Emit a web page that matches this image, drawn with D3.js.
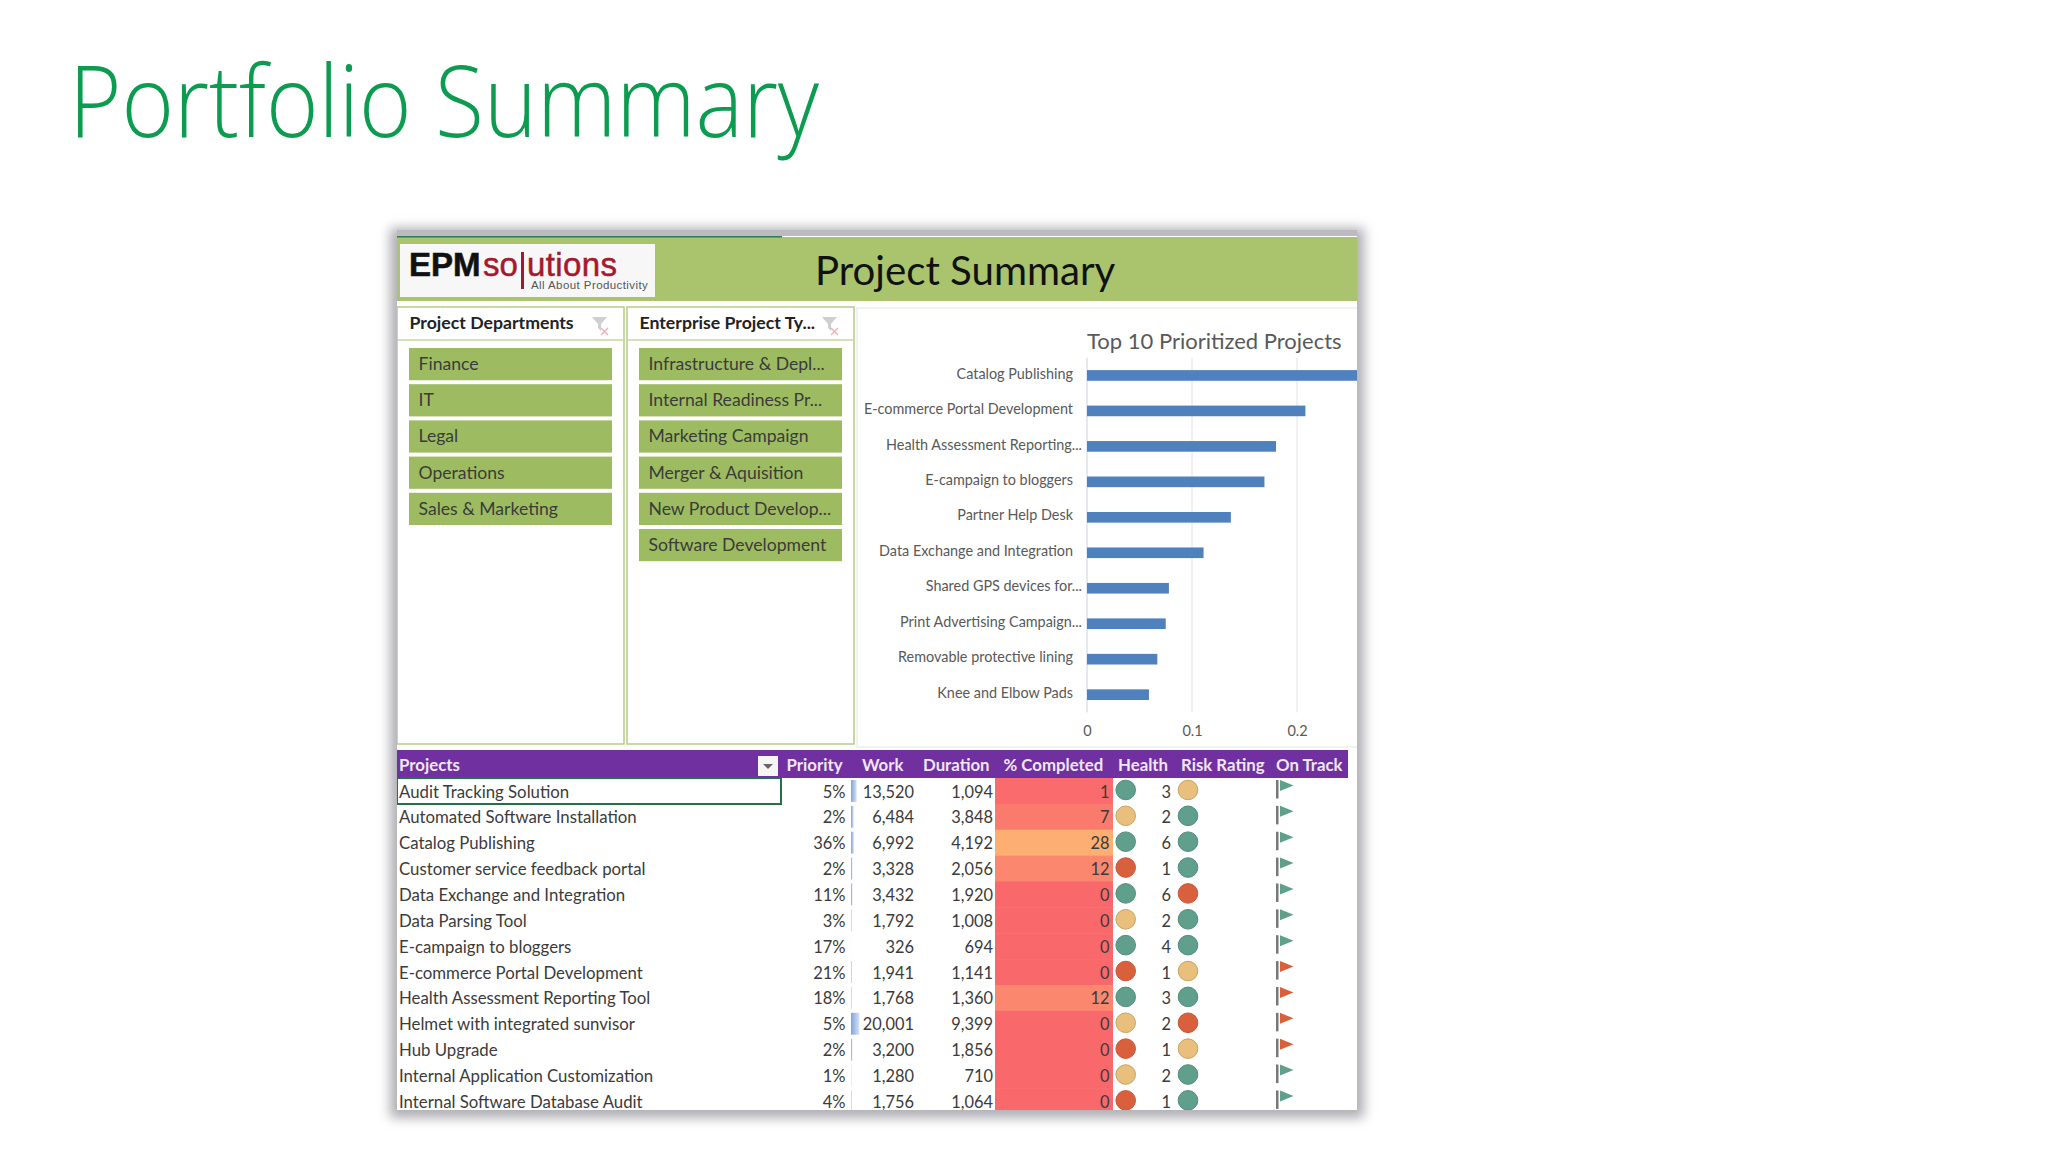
<!DOCTYPE html>
<html lang="en">
<head>
<meta charset="UTF-8">
<title>Portfolio Summary</title>
<script src="https://d3js.org/d3.v7.min.js"></script>
<style>
    body { margin: 0; background: #fff; }
    text { font-family: Lato, "Open Sans", sans-serif; }
</style>
</head>
<body>
<svg width="2048" height="1152"></svg>
<script>
// chart data
const chartLabels = ["Catalog Publishing", "E-commerce Portal Development", "Health Assessment Reporting...", "E-campaign to bloggers", "Partner Help Desk", "Data Exchange and Integration", "Shared GPS devices for...", "Print Advertising Campaign...", "Removable protective lining", "Knee and Elbow Pads"];
const chartValues = [0.36, 0.208, 0.18, 0.169, 0.137, 0.111, 0.078, 0.075, 0.067, 0.059];
const chartTicks = [0, 0.1, 0.2];

// slicers
const departments = ["Finance", "IT", "Legal", "Operations", "Sales & Marketing"];
const projectTypes = ["Infrastructure & Depl...", "Internal Readiness Pr...", "Marketing Campaign", "Merger & Aquisition", "New Product Develop...", "Software Development"];

// table
const columns = ["Priority", "Work", "Duration", "% Completed", "Health", "Risk Rating", "On Track"];
const projects = ["Audit Tracking Solution", "Automated Software Installation", "Catalog Publishing", "Customer service feedback portal", "Data Exchange and Integration", "Data Parsing Tool", "E-campaign to bloggers", "E-commerce Portal Development", "Health Assessment Reporting Tool", "Helmet with integrated sunvisor", "Hub Upgrade", "Internal Application Customization", "Internal Software Database Audit"];
const priority = [5, 2, 36, 2, 11, 3, 17, 21, 18, 5, 2, 1, 4];
const work = [13520, 6484, 6992, 3328, 3432, 1792, 326, 1941, 1768, 20001, 3200, 1280, 1756];
const duration = [1094, 3848, 4192, 2056, 1920, 1008, 694, 1141, 1360, 9399, 1856, 710, 1064];
const completed = [1, 7, 28, 12, 0, 0, 0, 0, 12, 0, 0, 0, 0];
const health = ["g", "y", "g", "r", "g", "y", "g", "r", "g", "y", "r", "y", "r"];
const riskCount = [3, 2, 6, 1, 6, 2, 4, 1, 3, 2, 1, 2, 1];
const riskRating = ["y", "g", "g", "g", "r", "g", "g", "y", "g", "r", "y", "g", "g"];
const onTrack = ["g", "g", "g", "g", "g", "g", "g", "r", "r", "r", "r", "g", "g"];

const fills = { g: "#5f9f8c", y: "#e8bf7c", r: "#d9603c" };
const strokes = { g: "#4f8d7b", y: "#c9a35f", r: "#c8573a" };
const dark = "#3b3b3b";
const grey = "#595959";

const svg = d3.select("svg");
const defs = svg.append("defs");
const blur = (id, sd) => defs.append("filter").attr("id", id)
    .attr("x", "-5%").attr("y", "-5%").attr("width", "110%").attr("height", "110%")
    .append("feGaussianBlur").attr("stdDeviation", sd);
blur("shadow", 6);
defs.append("clipPath").attr("id", "panel")
    .append("rect").attr("x", 397).attr("y", 236).attr("width", 960).attr("height", 874);
const barGrad = defs.append("linearGradient").attr("id", "databar");
barGrad.append("stop").attr("offset", 0).attr("stop-color", "#7fa5da");
barGrad.append("stop").attr("offset", 1).attr("stop-color", "#d5e2f4");

// slide title
svg.append("text").attr("x", 69).attr("y", 137)
    .attr("font-size", 100).attr("font-weight", 300).attr("fill", "#0c9c50")
    .attr("textLength", 750).attr("lengthAdjust", "spacingAndGlyphs")
    .style("font-family", "'Open Sans', Lato, sans-serif")
    .text("Portfolio Summary");

// screenshot shadow and sheet
svg.append("rect").attr("x", 390).attr("y", 228).attr("width", 974).attr("height", 890)
    .attr("fill", "#aeaeb3").attr("filter", "url(#shadow)");
svg.append("rect").attr("x", 397).attr("y", 230).attr("width", 960).attr("height", 7).attr("fill", "#bdbbc1");
const sheet = svg.append("g").attr("clip-path", "url(#panel)");
sheet.append("rect").attr("x", 397).attr("y", 236).attr("width", 960).attr("height", 874).attr("fill", "#fff");

// banner
sheet.append("rect").attr("x", 397).attr("y", 237).attr("width", 960).attr("height", 64).attr("fill", "#a9c46c");
sheet.append("rect").attr("x", 397).attr("y", 235).attr("width", 385).attr("height", 2.5).attr("fill", "#2f7d57");
sheet.append("text").attr("x", 815).attr("y", 284.5)
    .attr("font-size", 40.2).attr("fill", "#111").text("Project Summary");

// logo
const logo = sheet.append("g");
logo.append("rect").attr("x", 400).attr("y", 244).attr("width", 255).attr("height", 53).attr("fill", "#f7f7f7");
logo.append("text").attr("x", 409).attr("y", 276)
    .attr("font-size", 33).attr("font-weight", 700).attr("fill", "#111").attr("stroke", "#111").attr("stroke-width", 0.6)
    .style("font-family", "'Liberation Sans'").text("EPM");
logo.append("text").attr("x", 483).attr("y", 276)
    .attr("font-size", 33).attr("fill", "#a5182f").attr("stroke", "#a5182f").attr("stroke-width", 0.5)
    .style("font-family", "'Liberation Sans'").text("so");
logo.append("rect").attr("x", 521).attr("y", 252).attr("width", 3).attr("height", 37).attr("fill", "#a5182f");
logo.append("text").attr("x", 527).attr("y", 276).attr("letter-spacing", 0.4)
    .attr("font-size", 33).attr("fill", "#a5182f").attr("stroke", "#a5182f").attr("stroke-width", 0.5)
    .style("font-family", "'Liberation Sans'").text("utions");
logo.append("text").attr("x", 531).attr("y", 289)
    .attr("font-size", 11.5).attr("fill", "#555").attr("letter-spacing", 0.42)
    .style("font-family", "'Liberation Sans'").text("All About Productivity");

// slicers
function slicer(x, title, items) {
    const g = sheet.append("g").attr("transform", `translate(${x},307)`);
    g.append("rect").attr("width", 227).attr("height", 437)
        .attr("fill", "#fff").attr("stroke", "#b5cb85").attr("stroke-width", 1.5);
    g.append("line").attr("x1", 0).attr("x2", 227).attr("y1", 33).attr("y2", 33)
        .attr("stroke", "#c5d6a0").attr("stroke-width", 1.5);
    g.append("text").attr("x", 12.5).attr("y", 22)
        .attr("font-size", 17.7).attr("font-weight", 700).attr("fill", "#222").text(title);
    // clear filter icon
    const icon = g.append("g").attr("transform", "translate(195,10)");
    icon.append("path").attr("d", d3.line()([[0, 0], [15, 0], [9, 7], [9, 14], [6, 11], [6, 7]]) + "Z").attr("fill", "#cfcfcf");
    icon.append("path").attr("d", "M9,11L16,18M16,11L9,18").attr("stroke", "#eeb5b5").attr("stroke-width", 1.5);

    const y = d3.scaleBand().domain(items).range([39, 39 + items.length * 36.2]).paddingInner(0.11).paddingOuter(0.055);
    const row = g.selectAll("g.item").data(items).join("g").attr("class", "item")
        .attr("transform", d => `translate(12,${y(d)})`);
    row.append("rect").attr("width", 203).attr("height", y.bandwidth()).attr("fill", "#9dbb61");
    row.append("text").attr("x", 9.5).attr("y", 22).attr("font-size", 17.6).attr("fill", dark).text(d => d);
}
slicer(397, "Project Departments", departments);
slicer(627, "Enterprise Project Ty...", projectTypes);

// bar chart
sheet.append("rect").attr("x", 857).attr("y", 308).attr("width", 502).attr("height", 439)
    .attr("fill", "#fff").attr("stroke", "#e3e8da");
sheet.append("text").attr("x", 1087).attr("y", 349)
    .attr("font-size", 22).attr("fill", grey).text("Top 10 Prioritized Projects");

const x = d3.scaleLinear().domain([0, 0.25]).range([1087, 1349.5]);
const y = d3.scaleBand().domain(chartLabels).range([357.7, 712.4]).paddingInner(0.7).paddingOuter(0.35);

sheet.append("g").selectAll("line").data(chartTicks).join("line")
    .attr("x1", d => x(d)).attr("x2", d => x(d)).attr("y1", 357.7).attr("y2", 712.4)
    .attr("stroke", d => d === 0 ? "#ccd3de" : "#e2e2e2");
sheet.append("g").selectAll("rect").data(chartValues).join("rect")
    .attr("x", x(0)).attr("y", (d, i) => y(chartLabels[i]))
    .attr("width", d => x(d) - x(0)).attr("height", y.bandwidth())
    .attr("fill", "#4f81bd");

const yAxis = sheet.append("g").attr("transform", `translate(${x(0)},0)`)
    .call(d3.axisLeft(y).tickSize(0).tickPadding(14));
yAxis.select(".domain").remove();
yAxis.selectAll("text")
    .attr("font-size", 14.4).attr("fill", grey).style("font-family", "Lato, sans-serif")
    .attr("dy", "0.22em")
    .attr("dx", d => d.endsWith("...") ? 9 : 0);

const xAxis = sheet.append("g").attr("transform", "translate(0,712.4)")
    .call(d3.axisBottom(x).tickValues(chartTicks).tickSize(0).tickPadding(13).tickFormat(d3.format("")));
xAxis.select(".domain").remove();
xAxis.selectAll("text").attr("font-size", 14.5).attr("fill", grey).style("font-family", "Lato, sans-serif");

// table header
sheet.append("rect").attr("x", 397).attr("y", 750).attr("width", 951).attr("height", 28).attr("fill", "#7030a0");
const headerX = [786.5, 862, 923, 1003.5, 1118, 1181, 1276];
const headerStyle = s => s.attr("y", 771).attr("font-size", 16.8).attr("font-weight", 700).attr("fill", "#efe6f6");
sheet.append("text").attr("x", 399).call(headerStyle).text("Projects");
sheet.append("g").selectAll("text").data(columns).join("text")
    .attr("x", (d, i) => headerX[i]).call(headerStyle).text(d => d);
sheet.append("rect").attr("x", 758).attr("y", 756).attr("width", 20).attr("height", 20).attr("fill", "#f6f6f6");
sheet.append("path").attr("d", d3.line()([[763, 764], [773, 764], [768, 769]]) + "Z").attr("fill", "#666");

// table rows
const rowY = d3.scaleBand().domain(d3.range(projects.length)).range([778, 778 + projects.length * 25.87]);
const rows = sheet.append("g");
const completedColor = d3.scaleLinear().domain([0, 28]).range(["#f9696c", "#fdae72"]);
const dataBar = d3.scaleLinear().domain([0, 20001]).range([0, 8.3]);
const cy = i => rowY(i) + rowY.bandwidth() / 2 - 1;
const base = i => rowY(i) + 19.5;

rows.selectAll("rect.pct").data(completed).join("rect").attr("class", "pct")
    .attr("x", 995).attr("y", (d, i) => rowY(i))
    .attr("width", 118).attr("height", rowY.bandwidth() + 0.5)
    .attr("fill", d => completedColor(d));
rows.selectAll("rect.bar").data(work).join("rect").attr("class", "bar")
    .attr("x", 851).attr("y", (d, i) => rowY(i) + 2)
    .attr("width", d => dataBar(d)).attr("height", rowY.bandwidth() - 4)
    .attr("fill", "url(#databar)");

function textColumn(values, xPos, anchor, size, fmt) {
    rows.append("g").selectAll("text").data(values).join("text")
        .attr("x", xPos).attr("y", (d, i) => base(i))
        .attr("text-anchor", anchor).attr("font-size", size).attr("fill", dark)
        .text(fmt);
}
textColumn(projects, 399, "start", 16.8, d => d);
textColumn(priority, 845.5, "end", 16.5, d => d + "%");
textColumn(work, 914, "end", 16.4, d3.format(","));
textColumn(duration, 993, "end", 16.4, d3.format(","));
textColumn(completed, 1109.5, "end", 16.4, d => d);
textColumn(riskCount, 1171, "end", 16.4, d => d);

function dots(values, cx) {
    rows.append("g").selectAll("circle").data(values).join("circle")
        .attr("cx", cx).attr("cy", (d, i) => cy(i)).attr("r", 9.8)
        .attr("fill", d => fills[d]).attr("stroke", d => strokes[d]);
}
dots(health, 1125.7);
dots(riskRating, 1188);

const flags = rows.append("g").selectAll("g").data(onTrack).join("g")
    .attr("transform", (d, i) => `translate(1277,${rowY(i) + 2})`);
flags.append("rect").attr("x", -1).attr("width", 2.5).attr("height", 18.5).attr("fill", "#777");
flags.append("path").attr("d", d3.line()([[3, 0], [16.5, 5.5], [3, 11]]) + "Z")
    .attr("fill", d => fills[d]);

// selected cell
sheet.append("rect").attr("x", 397).attr("y", 778).attr("width", 384).attr("height", 26)
    .attr("fill", "none").attr("stroke", "#217346").attr("stroke-width", 2);
</script>
</body>
</html>
